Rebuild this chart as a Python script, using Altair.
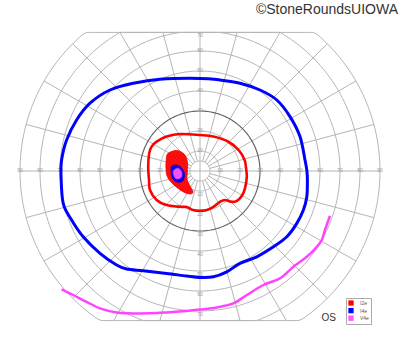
import altair as alt
import numpy as np
import pandas as pd

# ---------------- data (degrees of visual field: horizontal, vertical) ----------------
ISOPTERS = ["I2e", "I4e", "V4e"]
FILL_COLORS = ["#ff0000", "#0000ff", "#ff55ff"]
EDGE_COLORS = ["#ee0000", "#0000cc", "#cc44cc"]
LINE_COLORS = ["#ff0000", "#0000ff", "#ff44ff"]

# I4e isopter (closed)
i4e_x = [0, -20, -33.3, -45, -55, -61.7, -66.7, -69.2, -69.5, -68.4, -64.2, -58.4, -50, -41.7,
         -36.7, -28.4, -16.7, -6.7, 0, 6.7, 13.4, 20, 28.4, 36.7, 43.4, 48.4, 51.7, 53.4, 53.7,
         53.4, 52.5, 50, 45, 38.4, 30, 20, 10]
i4e_y = [46.3, 45.9, 43.9, 40.5, 33.9, 25.5, 15.5, 5.5, -2, -16.2, -24.5, -32.9, -41.2, -47,
         -49, -49.9, -51.2, -52.5, -53.2, -52.9, -50.4, -46.2, -42.9, -37.9, -32.9, -26.2, -19.5,
         -12.9, -4.5, 0.5, 5.5, 17.2, 27.2, 35.5, 40.5, 43.9, 45.5]

# I2e isopter (closed)
i2e_x = [0, -10, -16.7, -21.7, -24.2, -25.4, -25.9, -25.5, -25, -21.7, -16.7, -10, -6.7, -3.4,
         0, 3.4, 6.7, 10, 12.5, 15.9, 18.4, 20.9, 22.5, 23.4, 23.0, 22.3, 19.3, 14, 6.7]
i2e_y = [18, 18.5, 17.2, 14.7, 12.2, 8.9, 2.2, -4.5, -9.5, -14.5, -17, -17.9, -18, -19.5,
         -19.9, -19.5, -17.9, -15.4, -14.5, -15.4, -14.9, -12.5, -8.7, -2.9, 1.5, 5.5, 10.5,
         14.75, 17.25]

# V4e isopter (open, runs off the chart)
v4e_x = [-69.2, -63.4, -56.7, -50, -41.7, -30, -16.7, -6.7, 0, 8.4, 16.7, 23.4, 31.7, 40,
         46.7, 53.4, 58.4, 60.9, 62.5, 65]
v4e_y = [-59.2, -62, -65.4, -68.7, -70.7, -71.2, -70.7, -70, -69.3, -68.2, -66.2, -62, -57,
         -53.7, -47.9, -42.9, -37.9, -34.5, -29.5, -22.4]

# scotomas (filled areas)
sc_i2e_x = [-15.9, -11.7, -8, -6.3, -6.3, -6.5, -5, -3.5, -5, -8.4, -13, -16.3, -17, -16.8]
sc_i2e_y = [8.9, 10.3, 8.5, 4.7, -0.4, -4, -7.5, -10.5, -11.5, -10.4, -7, -2.9, 1.5, 6.4]
sc_i4e_x = [-14.2, -12.5, -10, -8, -8, -9.2, -11.7, -13.7, -14.5]
sc_i4e_y = [2.2, 3, 2.2, -0.4, -3.7, -5.4, -5.4, -3.7, -0.4]
sc_v4e_x = [-13, -10.9, -9.2, -9.2, -10.9, -12.5, -13.4]
sc_v4e_y = [0.5, 1.4, -0.4, -2.9, -4, -3.4, -1.2]

RINGS = [5, 10, 20, 40, 50, 60, 70, 80, 90]
DARK_RING = [30]
MERIDIANS = list(range(0, 360, 15))
H_LABELS = [10, 20, 30, 40, 50, 60, 70, 80, 90]
V_LABELS = [10, 20, 30, 40, 50, 60, 70]
TOP_LIMIT, BOTTOM_LIMIT, OUTER = 69.3, -74.8, 90
COPYRIGHT = "©StoneRoundsUIOWA"
EYE = "OS"

# ---------------- build tables ----------------
def ring_df(radii):
    rows = []
    th = np.deg2rad(np.arange(0, 360.01, 1.5))
    for r in radii:
        for k, t in enumerate(th):
            rows.append({"g": r, "k": k, "x": r * np.cos(t),
                         "y": float(np.clip(r * np.sin(t), BOTTOM_LIMIT, TOP_LIMIT))})
    return pd.DataFrame(rows)

rings = ring_df(RINGS)
dark = ring_df(DARK_RING)

mrows = []
for a in MERIDIANS:
    t = np.deg2rad(a)
    s = np.sin(t)
    r1 = OUTER
    if s > 1e-9:
        r1 = min(OUTER, TOP_LIMIT / s)
    elif s < -1e-9:
        r1 = min(OUTER, BOTTOM_LIMIT / s)
    r0 = 0 if a % 90 == 0 else 5
    for k, r in enumerate([r0, r1]):
        mrows.append({"g": a, "k": k, "x": r * np.cos(t), "y": r * np.sin(t)})
meridians = pd.DataFrame(mrows)

hl = pd.DataFrame([{"x": s * v, "y": 0, "t": str(v)} for v in H_LABELS for s in (-1, 1)])
vt = pd.DataFrame([{"x": 0, "y": min(v, 67.6), "t": str(v)} for v in V_LABELS])
vb = pd.DataFrame([{"x": 0, "y": -v, "t": str(v)} for v in V_LABELS])

def poly(name, xs, ys):
    return pd.DataFrame({"iso": name, "i": range(len(xs)), "x": xs, "y": ys})

scot = pd.concat([poly("I2e", sc_i2e_x, sc_i2e_y), poly("I4e", sc_i4e_x, sc_i4e_y),
                  poly("V4e", sc_v4e_x, sc_v4e_y)])
i2e = poly("I2e", i2e_x, i2e_y)
i4e = poly("I4e", i4e_x, i4e_y)
v4e = poly("V4e", v4e_x, v4e_y)

# ---------------- chart ----------------
xs = alt.Scale(domain=[-100, 100], nice=False, zero=False)
ys = alt.Scale(domain=[-90.5, 85.5], nice=False, zero=False)
X = alt.X("x:Q", scale=xs, axis=None)
Y = alt.Y("y:Q", scale=ys, axis=None)

grid = alt.Chart(rings).mark_line(color="#b5b5b5", strokeWidth=1).encode(
    x=X, y=Y, detail="g:N", order="k:Q")
grid_dark = alt.Chart(dark).mark_line(color="#666666", strokeWidth=1.2).encode(
    x=X, y=Y, detail="g:N", order="k:Q")
mer = alt.Chart(meridians).mark_line(color="#b5b5b5", strokeWidth=1).encode(
    x=X, y=Y, detail="g:N", order="k:Q")

lab_style = dict(fontSize=5, color="#999999", font="Liberation Sans")
lab_h = alt.Chart(hl).mark_text(dy=-1.5, **lab_style).encode(x=X, y=Y, text="t:N")
lab_t = alt.Chart(vt).mark_text(dy=-1, **lab_style).encode(x=X, y=Y, text="t:N")
lab_b = alt.Chart(vb).mark_text(dy=3, **lab_style).encode(x=X, y=Y, text="t:N")

fills = alt.Chart(scot).mark_line(interpolate="cardinal-closed", strokeWidth=0.8,
                                  fillOpacity=0.95).encode(
    x=X, y=Y, order="i:Q",
    fill=alt.Fill("iso:N", scale=alt.Scale(domain=ISOPTERS, range=FILL_COLORS),
                  legend=alt.Legend(title=None, orient="none", legendX=346, legendY=298,
                                    symbolType="square", symbolSize=28, symbolStrokeWidth=0,
                                    labelFontSize=5, labelColor="#555555", labelOffset=6,
                                    rowPadding=1.6, padding=2, strokeColor="#aaaaaa",
                                    fillColor="white", labelFont="Liberation Sans")),
    stroke=alt.Stroke("iso:N", scale=alt.Scale(domain=ISOPTERS, range=EDGE_COLORS),
                      legend=None),
)

line_i2e = alt.Chart(i2e).mark_line(interpolate="cardinal-closed", strokeWidth=2.6,
                                    color=LINE_COLORS[0]).encode(x=X, y=Y, order="i:Q")
line_i4e = alt.Chart(i4e).mark_line(interpolate="cardinal-closed", strokeWidth=3,
                                    color=LINE_COLORS[1]).encode(x=X, y=Y, order="i:Q")
line_v4e = alt.Chart(v4e).mark_line(interpolate="cardinal", strokeWidth=2.5,
                                    color=LINE_COLORS[2]).encode(x=X, y=Y, order="i:Q")

copy_txt = alt.Chart(pd.DataFrame({"t": [COPYRIGHT]})).mark_text(
    align="right", baseline="alphabetic", fontSize=14, font="Liberation Sans",
    color="#333333").encode(x=alt.value(398), y=alt.value(13.5), text="t:N")
eye_txt = alt.Chart(pd.DataFrame({"t": [EYE]})).mark_text(
    align="left", baseline="alphabetic", fontSize=10, font="Liberation Sans",
    color="#333333").encode(x=alt.value(321.5), y=alt.value(320.5), text="t:N")

chart = alt.layer(
    grid, mer, grid_dark, lab_h, lab_t, lab_b, fills, line_i2e, line_i4e, line_v4e,
    copy_txt, eye_txt
).properties(
    width=400, height=352, padding=0, autosize=alt.AutoSizeParams(type="none")
).configure_view(stroke=None)

chart.save("out.html", embed_options={"renderer": "svg", "actions": False})
